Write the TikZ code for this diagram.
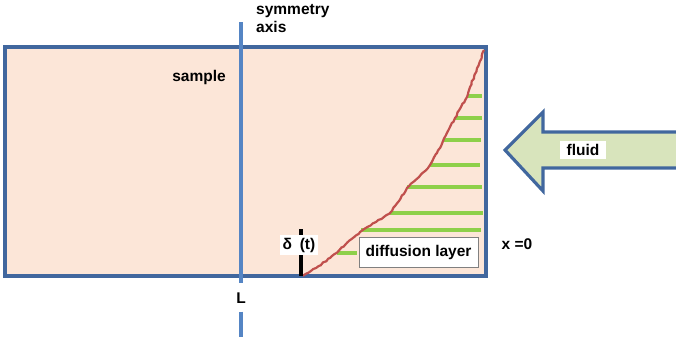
\documentclass[tikz,border=0pt]{standalone}
\usepackage{fontspec}
\setmainfont{Liberation Sans}
\usetikzlibrary{positioning,decorations.pathmorphing}
\definecolor{frameblue}{HTML}{41679E}
\definecolor{axisblue}{HTML}{5585C4}
\definecolor{peach}{HTML}{FCE6D8}
\definecolor{curvered}{HTML}{C0504D}
\definecolor{layergreen}{HTML}{8ED04A}
\definecolor{fluidgreen}{HTML}{D8E4BC}
\tikzset{
  lbl/.style={font=\bfseries\fontsize{15.5}{18}\selectfont,inner sep=1pt},
  whitelbl/.style={lbl,fill=white,inner sep=3pt},
  front/.style={draw=curvered,line width=2.2pt,decorate,decoration={random steps,segment length=3pt,amplitude=0.6pt}},
  layerline/.style={draw=layergreen,line width=3.2pt},
  axisline/.style={draw=axisblue,line width=3.2pt}
}

\begin{document}
\begin{tikzpicture}[x=1pt,y=-1pt]
  \useasboundingbox (0,0) rectangle (676,340);
  \node[draw=frameblue,fill=peach,line width=3.2pt,minimum width=481pt,minimum height=229pt,inner sep=0pt] (sample) at (245.5,161.5) {};

  % green lines of the layer, then the front
  \foreach \y/\xa/\xb in {96/467/482,118/455/482,140/444/481,165/430/480,187/407/482,213/390/483,230/361/481,253/337/357}
    \draw[layerline] (\xa,\y) -- (\xb,\y);
  \draw[front] (303,276) -- (316,268) -- (330,258) -- (345,245) -- (360,232) -- (376,222) -- (390,213) -- (399,201) -- (407,188) -- (419,177) -- (430,165) -- (437,153) -- (443,141) -- (449,129) -- (455,118) -- (461,107) -- (467,97) -- (470,87) -- (474,77) -- (479,64) -- (484,50);

  \node[draw=gray,fill=white,lbl,line width=0.8pt,minimum width=119pt,minimum height=30pt] (layer) at (418.5,252) {diffusion layer};

  % symmetry axis
  \coordinate (axtop) at (241,22);
  \coordinate (axbot) at (241,283);
  \coordinate (axend) at (241,337);
  \draw[axisline] (axtop) -- (axbot);
  \node[lbl] (axL) at (241,298) {L};
  \draw[axisline] ([yshift=-7pt]axL.south) -- (axend);
  \node[lbl,align=left,anchor=north west] (axlbl) at (255,3) {symmetry\\axis};

  \node[lbl] (smplbl) at (199,77) {sample};
  \node[lbl] (xzero) at (517,244) {x =0};

  % front depth
  \coordinate (dtop) at (301,229);
  \coordinate (dbot) at (301,276);
  \draw[line width=3.2pt] (dtop) -- (dbot);
  \node[whitelbl] (delta) at (299,245) {δ\,\,\,(t)};

  % fluid arrow
  \draw[draw=frameblue,fill=fluidgreen,line width=3.2pt] (505,150) -- (543,112) -- (543,132) -- (690,132) -- (690,168) -- (543,168) -- (543,191) -- cycle;
  \node[whitelbl,minimum width=46pt] (fluid) at (583,150) {fluid};
\end{tikzpicture}
\end{document}
